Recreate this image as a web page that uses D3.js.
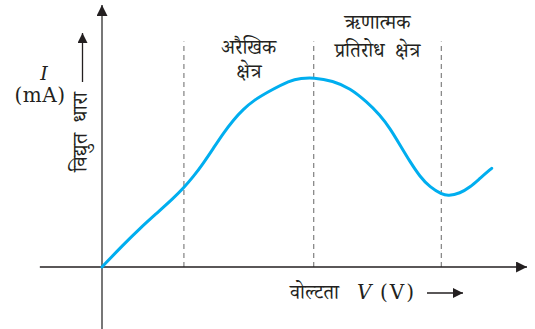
<!DOCTYPE html>
<html>
<head>
<meta charset="utf-8">
<script src="https://cdn.jsdelivr.net/npm/d3@7"></script>
<style>
  body { margin: 0; background: #fff; }
  svg { display: block; }
  text { white-space: pre; }
  .lat { font-family: "DejaVu Serif", "Liberation Serif", serif; fill: #231f20; }
  .dev { font-family: "Noto Serif Devanagari", "Noto Sans Devanagari", "Lohit Devanagari", serif; fill: #231f20; }
</style>
</head>
<body>
<script>
// voltage V (arbitrary units) and current I (mA)
var voltage = [0, 0.5, 0.905, 1.302, 1.698, 1.936, 2.174, 2.412, 2.65, 2.888, 3.126, 3.364, 3.602, 3.96, 4.476, 4.738, 5.024,
               5.5, 5.905, 6.302, 6.619, 6.857, 7.095, 7.333, 7.571, 7.81, 8.088, 8.245, 8.524, 8.762, 9.0, 9.279];
var current = [0, 1.048, 1.843, 2.557, 3.271, 3.748, 4.3, 4.938, 5.652, 6.367, 7.0, 7.51, 7.919, 8.348, 8.89, 8.986, 9.024,
               8.871, 8.51, 7.871, 7.238, 6.605, 5.81, 5.014, 4.3, 3.795, 3.462, 3.381, 3.51, 3.795, 4.224, 4.7];
// region boundaries (dashed lines)
var boundaries = [1.95, 5.04, 8.08];
var boundaryTop = 10.74;
// region labels, one per gap between boundaries
var regionLabels = [["अरैखिक", "क्षेत्र"], ["ऋणात्मक", "प्रतिरोध  क्षेत्र"]];
var xExtent = [-1.48, 10.12];
var yExtent = [-2.95, 12.48];

var width = 535, height = 329;

var x = d3.scaleLinear().domain([0, 10]).range([102, 522]);
var y = d3.scaleLinear().domain([0, 12]).range([267, 15]);

var svg = d3.select("body").append("svg")
  .attr("width", width)
  .attr("height", height);

var defs = svg.append("defs");
[["head", 11], ["smallhead", 10]].forEach(function (m) {
  defs.append("marker")
    .attr("id", m[0])
    .attr("viewBox", "0 0 10 10")
    .attr("refX", 10).attr("refY", 5)
    .attr("markerUnits", "userSpaceOnUse")
    .attr("markerWidth", m[1]).attr("markerHeight", m[1])
    .attr("orient", "auto")
    .append("path")
    .attr("d", "M0,0 L10,5 L0,10 Z")
    .attr("fill", "#231f20");
});

// dashed region lines
svg.selectAll(".bound")
  .data(boundaries)
  .enter().append("line")
  .attr("class", "bound")
  .attr("x1", function (d) { return x(d); })
  .attr("x2", function (d) { return x(d); })
  .attr("y1", y(0))
  .attr("y2", y(boundaryTop))
  .attr("stroke", "#8a8a8a")
  .attr("stroke-width", 1.3)
  .attr("stroke-dasharray", "5,4");

// axes
svg.append("line")
  .attr("x1", x(xExtent[0])).attr("x2", x(xExtent[1]))
  .attr("y1", y(0)).attr("y2", y(0))
  .attr("stroke", "#231f20").attr("stroke-width", 1.5)
  .attr("marker-end", "url(#head)");
svg.append("line")
  .attr("x1", x(0)).attr("x2", x(0))
  .attr("y1", y(yExtent[0])).attr("y2", y(yExtent[1]))
  .attr("stroke", "#4a4a4a").attr("stroke-width", 1.5)
  .attr("marker-end", "url(#head)");

// I-V curve
var pts = voltage.map(function (v, i) { return [v, current[i]]; });
var line = d3.line()
  .x(function (d) { return x(d[0]); })
  .y(function (d) { return y(d[1]); })
  .curve(d3.curveBasis);
svg.append("path")
  .datum(pts)
  .attr("d", line)
  .attr("fill", "none")
  .attr("stroke", "#00aeef")
  .attr("stroke-width", 3)
  .attr("stroke-linecap", "round");

// region labels (two lines each, one text element)
regionLabels.forEach(function (lines, i) {
  var cx = x((boundaries[i] + boundaries[i + 1]) / 2);
  var t = svg.append("text")
    .attr("class", "dev")
    .attr("x", cx)
    .attr("y", i === 0 ? 54 : 29)
    .attr("text-anchor", "middle")
    .attr("font-size", 20);
  lines.forEach(function (s, j) {
    t.append("tspan")
      .attr("x", cx)
      .attr("dy", j === 0 ? 0 : (i === 0 ? 24 : 28))
      .text(s);
  });
});

// y label
svg.append("text").attr("class", "lat")
  .attr("x", 44).attr("y", 80)
  .attr("text-anchor", "middle")
  .attr("font-size", 19).attr("font-style", "italic")
  .text("I");
svg.append("text").attr("class", "lat")
  .attr("x", 40).attr("y", 102)
  .attr("text-anchor", "middle")
  .attr("font-size", 20)
  .attr("letter-spacing", 0.5)
  .text("(mA)");
svg.append("text").attr("class", "dev")
  .attr("transform", "translate(87,172) rotate(-90)")
  .attr("font-size", 21)
  .text("विद्युत  धारा");
svg.append("line")
  .attr("x1", 82.5).attr("x2", 82.5)
  .attr("y1", 82).attr("y2", 33)
  .attr("stroke", "#231f20").attr("stroke-width", 1.3)
  .attr("marker-end", "url(#smallhead)");

// x label
svg.append("text").attr("class", "dev")
  .attr("x", 290).attr("y", 299)
  .attr("font-size", 20)
  .text("वोल्टता");
svg.append("text").attr("class", "lat")
  .attr("x", 357).attr("y", 299)
  .attr("font-size", 20).attr("font-style", "italic")
  .text("V");
svg.append("text").attr("class", "lat")
  .attr("x", 380).attr("y", 299)
  .attr("font-size", 20).attr("letter-spacing", 2)
  .text("(V)");
svg.append("line")
  .attr("x1", 427).attr("x2", 463)
  .attr("y1", 293).attr("y2", 293)
  .attr("stroke", "#231f20").attr("stroke-width", 1.3)
  .attr("marker-end", "url(#smallhead)");
</script>
</body>
</html>
